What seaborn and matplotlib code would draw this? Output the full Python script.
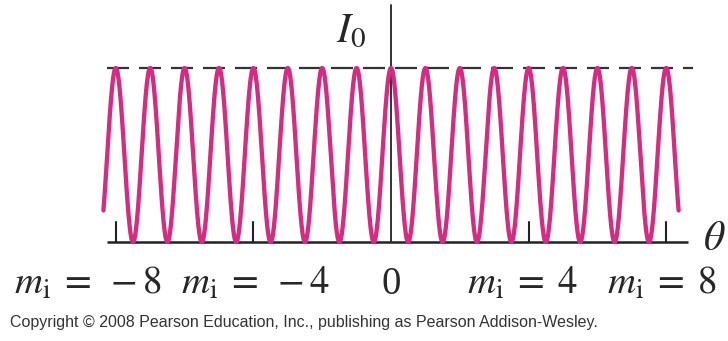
import numpy as np
import pandas as pd
import matplotlib
matplotlib.use("Agg")
import matplotlib.pyplot as plt
import seaborn as sns

# Two-source interference: intensity I = I0 cos^2(pi m) against order m
I0 = 1.0
m_start, m_end = -8.36, 8.36
label_orders = [-8, -4, 4, 8]
order_labels = [r"$m_\mathrm{i}\;=\;-8$", r"$m_\mathrm{i}\;=\;-4$", "0",
                r"$m_\mathrm{i}\;=\;4$", r"$m_\mathrm{i}\;=\;8$"]
copyright_text = ("Copyright \u00a9 2008 Pearson Education, Inc., "
                  "publishing as Pearson Addison-Wesley.")

m = np.linspace(m_start, m_end, 2000)
df = pd.DataFrame({"m": m, "I": I0 * np.cos(np.pi * m) ** 2})

sns.set_theme(style="white")
plt.rcParams["mathtext.fontset"] = "stix"
plt.rcParams["font.family"] = ["Liberation Serif", "DejaVu Serif"]

W, H = 728, 341
fig = plt.figure(figsize=(W / 100, H / 100), dpi=100)
ax = fig.add_axes([0, 0, 1, 1])

# pixel layout: m = 0 at x = 391, 34.4 px per order; I = 0 at y = 242, I0 at y = 68
px_per_m, x0 = 34.4, 391
px_per_I, y0 = 174, 242
ax.set_xlim(-x0 / px_per_m, (W - x0) / px_per_m)
ax.set_ylim(-(H - y0) / px_per_I, y0 / px_per_I)
ax.axis("off")

def px(xp, yp):
    return ((xp - x0) / px_per_m, (y0 - yp) / px_per_I)

# axes
ax.plot([px(107, 0)[0], px(688, 0)[0]], [0, 0], color="#222222", lw=1.8,
        solid_capstyle="butt", zorder=2)
ax.plot([0, 0], [0, px(0, 5)[1]], color="#333333", lw=1.4, zorder=2)
tick_h = 20 / px_per_I
for t in label_orders:
    ax.plot([t, t], [0, tick_h], color="#222222", lw=1.5, zorder=2)

# I0 reference level
ax.plot([px(107, 0)[0], px(693, 0)[0]], [I0, I0], color="#333333", lw=1.6,
        dashes=(9.9, 4.5), zorder=1)

# intensity curve
sns.lineplot(data=df, x="m", y="I", ax=ax, color="#D42C82", lw=3.1,
             legend=False, zorder=3)

# labels
def ftxt(xp, yp, s, **kw):
    fig.text(xp / W, 1 - yp / H, s, **kw)

ftxt(336, 32, r"$I_0$", fontsize=30, ha="left", va="center")
ftxt(703, 240, r"$\theta$", fontsize=30, ha="left", va="center")

label_x = [88, 256, 391, 523, 662]
for xp, s in zip(label_x, order_labels):
    ftxt(xp, 284, s, fontsize=28, ha="center", va="center")

ftxt(10, 322, copyright_text, fontsize=11.5, ha="left", va="center",
     family=["Liberation Sans", "DejaVu Sans"], color="#333333")

fig.savefig("out.png", dpi=100)
